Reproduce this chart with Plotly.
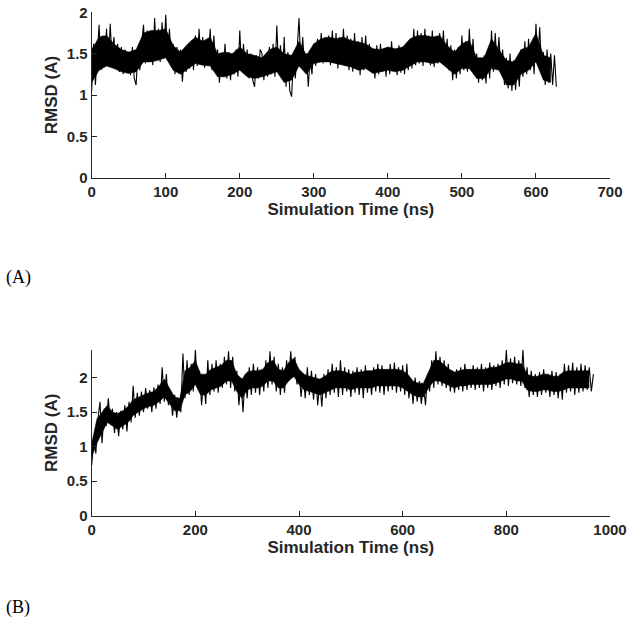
import plotly.graph_objects as go

# ---- data ----
dt_a = 2.5  # ns between samples, panel A
rmsd_a = [
    1.05, 1.62, 1.12, 1.55, 1.85, 1.30, 1.72, 1.38, 1.80, 1.35, 1.86, 1.42,
    1.70, 1.33, 1.62, 1.28, 1.58, 1.25, 1.55, 1.30, 1.52, 1.24, 1.58, 1.20,
    1.12, 1.55, 1.30, 1.62, 1.85, 1.38, 1.78, 1.42, 1.70, 1.36, 1.93, 1.45,
    1.80, 1.40, 1.88, 1.50, 1.97, 1.45, 1.80, 1.38, 1.62, 1.25, 1.58, 1.30,
    1.55, 1.16, 1.50, 1.28, 1.60, 1.32, 1.66, 1.30, 1.72, 1.35, 1.80, 1.40,
    1.70, 1.33, 1.65, 1.38, 1.80, 1.30, 1.72, 1.35, 1.55, 1.15, 1.50, 1.22,
    1.62, 1.20, 1.52, 1.18, 1.50, 1.25, 1.55, 1.22, 1.78, 1.30, 1.62, 1.28,
    1.55, 1.20, 1.50, 1.18, 1.10, 1.48, 1.20, 1.55, 1.50, 1.18, 1.45, 1.22,
    1.58, 1.25, 1.62, 1.22, 1.84, 1.30, 1.60, 1.20, 1.70, 1.10, 1.52, 1.05,
    0.98, 1.45, 1.20, 1.55, 1.93, 1.35, 1.70, 1.30, 1.50, 1.10, 1.45, 1.25,
    1.62, 1.35, 1.68, 1.40, 1.75, 1.38, 1.70, 1.42, 1.72, 1.36, 1.78, 1.40,
    1.75, 1.32, 1.70, 1.38, 1.80, 1.35, 1.72, 1.30, 1.68, 1.28, 1.75, 1.35,
    1.65, 1.24, 1.70, 1.30, 1.72, 1.32, 1.62, 1.28, 1.55, 1.20, 1.60, 1.25,
    1.62, 1.28, 1.55, 1.22, 1.58, 1.25, 1.65, 1.30, 1.55, 1.24, 1.60, 1.27,
    1.58, 1.25, 1.62, 1.30, 1.65, 1.32, 1.80, 1.36, 1.78, 1.38, 1.75, 1.35,
    1.80, 1.40, 1.72, 1.36, 1.78, 1.34, 1.70, 1.38, 1.75, 1.40, 1.78, 1.36,
    1.68, 1.30, 1.60, 1.18, 1.55, 1.20, 1.58, 1.25, 1.72, 1.30, 1.65, 1.28,
    1.80, 1.32, 1.68, 1.25, 1.50, 1.15, 1.45, 1.18, 1.48, 1.14, 1.52, 1.20,
    1.78, 1.28, 1.75, 1.35, 1.70, 1.30, 1.55, 1.12, 1.45, 1.08, 1.50, 1.05,
    1.42, 1.06, 1.45, 1.10, 1.55, 1.22, 1.65, 1.25, 1.68, 1.30, 1.60, 1.25,
    1.86, 1.40, 1.82, 1.35, 1.52, 1.12, 1.55, 1.15, 1.50, 1.12, 1.48, 1.10,
]
# dense core of the fluctuation band, panel A (every 10 ns)
dt_core_a = 10.0
core_a_lo = [
    1.15, 1.30, 1.35, 1.32, 1.28, 1.26, 1.28, 1.40, 1.40, 1.42, 1.45, 1.30,
    1.25, 1.32, 1.38, 1.36, 1.35, 1.22, 1.22, 1.25, 1.30, 1.22, 1.20, 1.22,
    1.25, 1.28, 1.15, 1.18, 1.35, 1.25, 1.38, 1.40, 1.40, 1.38, 1.36, 1.34,
    1.30, 1.32, 1.26, 1.28, 1.30, 1.28, 1.30, 1.35, 1.40, 1.40, 1.38, 1.40,
    1.32, 1.25, 1.32, 1.32, 1.20, 1.20, 1.32, 1.30, 1.12, 1.12, 1.25, 1.30,
    1.40, 1.18, 1.15,
]
core_a_hi = [
    1.55, 1.70, 1.72, 1.62, 1.55, 1.52, 1.55, 1.75, 1.78, 1.78, 1.80, 1.60,
    1.52, 1.62, 1.70, 1.65, 1.70, 1.50, 1.52, 1.50, 1.58, 1.50, 1.48, 1.45,
    1.55, 1.58, 1.50, 1.48, 1.65, 1.48, 1.62, 1.68, 1.70, 1.68, 1.70, 1.66,
    1.64, 1.62, 1.56, 1.55, 1.58, 1.56, 1.58, 1.68, 1.72, 1.72, 1.70, 1.72,
    1.60, 1.52, 1.62, 1.66, 1.45, 1.45, 1.68, 1.55, 1.42, 1.40, 1.55, 1.58,
    1.75, 1.48, 1.45,
]

dt_b = 4.0  # ns between samples, panel B
rmsd_b = [
    0.73, 1.12, 0.90, 1.40, 1.65, 1.05, 1.55, 1.30, 1.70, 1.35,
    1.55, 1.20, 1.50, 1.15, 1.52, 1.25, 1.60, 1.22, 1.65, 1.35,
    1.88, 1.42, 1.78, 1.45, 1.80, 1.50, 1.85, 1.55, 1.82, 1.50,
    1.86, 1.55, 1.90, 1.62, 2.15, 1.65, 2.05, 1.60, 1.80, 1.45,
    1.75, 1.42, 1.70, 1.50, 2.35, 1.70, 2.25, 1.75, 2.20, 1.80,
    2.40, 1.85, 2.10, 1.60, 1.95, 1.62, 2.25, 1.75, 2.20, 1.80,
    2.25, 1.78, 2.20, 1.85, 2.30, 1.90, 2.38, 1.85, 2.30, 1.80,
    2.10, 1.60, 1.95, 1.50, 2.05, 1.70, 2.15, 1.75, 2.20, 1.78,
    2.15, 1.75, 2.10, 1.80, 2.25, 1.85, 2.38, 1.90, 2.30, 1.80,
    2.20, 1.75, 2.15, 1.78, 2.25, 1.95, 2.38, 2.00, 2.30, 1.90,
    2.10, 1.72, 2.05, 1.70, 2.15, 1.75, 2.10, 1.68, 2.05, 1.60,
    1.95, 1.58, 2.05, 1.70, 2.12, 1.75, 2.20, 1.78, 2.15, 1.72,
    2.25, 1.75, 2.15, 1.80, 2.12, 1.72, 2.10, 1.78, 2.15, 1.75,
    2.12, 1.70, 2.18, 1.78, 2.10, 1.75, 2.15, 1.80, 2.20, 1.78,
    2.18, 1.75, 2.12, 1.80, 2.20, 1.82, 2.22, 1.78, 2.15, 1.80,
    2.18, 1.75, 2.20, 1.70, 1.98, 1.62, 2.00, 1.65, 1.95, 1.62,
    1.90, 1.60, 2.05, 1.80, 2.25, 1.85, 2.38, 1.90, 2.30, 1.88,
    2.25, 1.85, 2.20, 1.80, 2.10, 1.78, 2.12, 1.82, 2.15, 1.80,
    2.20, 1.82, 2.12, 1.85, 2.18, 1.82, 2.15, 1.85, 2.20, 1.80,
    2.15, 1.85, 2.22, 1.82, 2.18, 1.88, 2.20, 1.85, 2.25, 1.90,
    2.40, 1.88, 2.28, 1.92, 2.30, 1.90, 2.25, 1.88, 2.40, 1.85,
    2.15, 1.72, 2.10, 1.75, 2.05, 1.72, 2.08, 1.75, 2.12, 1.78,
    2.05, 1.72, 2.10, 1.75, 2.08, 1.70, 2.05, 1.68, 2.20, 1.78,
    2.18, 1.80, 2.22, 1.75, 2.15, 1.78, 2.20, 1.80, 2.18, 1.82,
    2.15, 1.80, 2.05,
]
# dense core of the fluctuation band, panel B (every 10 ns)
dt_core_b = 10.0
core_b_lo = [
    0.85, 1.05, 1.20, 1.35, 1.30, 1.25, 1.30, 1.35, 1.45, 1.50,
    1.55, 1.58, 1.60, 1.65, 1.72, 1.62, 1.52, 1.52, 1.75, 1.80,
    1.90, 1.75, 1.75, 1.82, 1.85, 1.88, 1.95, 1.95, 1.80, 1.70,
    1.82, 1.85, 1.85, 1.88, 1.95, 1.95, 1.85, 1.85, 1.95, 2.02,
    1.90, 1.82, 1.80, 1.78, 1.75, 1.78, 1.82, 1.85, 1.85, 1.85,
    1.82, 1.85, 1.85, 1.85, 1.85, 1.88, 1.88, 1.88, 1.88, 1.88,
    1.85, 1.80, 1.75, 1.72, 1.72, 1.85, 1.95, 1.95, 1.92, 1.88,
    1.85, 1.88, 1.88, 1.90, 1.90, 1.90, 1.90, 1.90, 1.92, 1.95,
    1.98, 1.98, 1.95, 1.95, 1.82, 1.80, 1.80, 1.82, 1.82, 1.80,
    1.80, 1.82, 1.85, 1.85, 1.85, 1.85, 1.85,
]
core_b_hi = [
    1.05, 1.40, 1.50, 1.60, 1.50, 1.48, 1.52, 1.58, 1.68, 1.72,
    1.75, 1.78, 1.80, 1.88, 1.98, 1.85, 1.72, 1.70, 2.10, 2.15,
    2.25, 2.05, 2.05, 2.12, 2.15, 2.18, 2.25, 2.25, 2.05, 1.98,
    2.08, 2.10, 2.10, 2.12, 2.22, 2.25, 2.12, 2.10, 2.22, 2.28,
    2.12, 2.05, 2.02, 2.00, 1.98, 2.02, 2.08, 2.10, 2.10, 2.08,
    2.05, 2.08, 2.08, 2.10, 2.10, 2.12, 2.12, 2.12, 2.12, 2.12,
    2.10, 2.05, 1.95, 1.92, 1.92, 2.08, 2.25, 2.25, 2.18, 2.12,
    2.08, 2.10, 2.12, 2.12, 2.12, 2.12, 2.12, 2.15, 2.15, 2.18,
    2.22, 2.22, 2.20, 2.20, 2.05, 2.02, 2.02, 2.05, 2.05, 2.02,
    2.02, 2.08, 2.10, 2.10, 2.10, 2.10, 2.10,
]

time_a = [i * dt_a for i in range(len(rmsd_a))]
time_b = [i * dt_b for i in range(len(rmsd_b))]
time_core_a = [i * dt_core_a for i in range(len(core_a_lo))]
time_core_b = [i * dt_core_b for i in range(len(core_b_lo))]

x_ticks_a = [0, 100, 200, 300, 400, 500, 600, 700]
x_ticks_b = [0, 200, 400, 600, 800, 1000]
y_ticks = [0, 0.5, 1, 1.5, 2]
y_tick_labels = ["0", "0.5", "1", "1.5", "2"]
x_title = "Simulation Time (ns)"
y_title = "RMSD (A)"
panel_labels = ["(A)", "(B)"]

# ---- figure ----
W, H = 633, 632
fig = go.Figure()

def add_panel(tc, lo, hi, t, v, xa, ya):
    fig.add_trace(go.Scatter(x=tc, y=lo, mode="lines", line=dict(color="black", width=0.5),
                             xaxis=xa, yaxis=ya, showlegend=False, hoverinfo="skip"))
    fig.add_trace(go.Scatter(x=tc, y=hi, mode="lines", line=dict(color="black", width=0.5),
                             fill="tonexty", fillcolor="black",
                             xaxis=xa, yaxis=ya, showlegend=False, hoverinfo="skip"))
    fig.add_trace(go.Scatter(x=t, y=v, mode="lines", line=dict(color="black", width=1.1),
                             xaxis=xa, yaxis=ya, showlegend=False))

add_panel(time_core_a, core_a_lo, core_a_hi, time_a, rmsd_a, "x", "y")
add_panel(time_core_b, core_b_lo, core_b_hi, time_b, rmsd_b, "x2", "y2")

FAM = "Liberation Sans, Arial, Helvetica, sans-serif"
tick_font = dict(family=FAM, size=15, color="#262626", weight="bold")
title_font = dict(family=FAM, size=17, color="#262626", weight="bold")

def xax(rng, ticks, dom, anchor):
    return dict(range=rng, tickvals=ticks, ticktext=[str(t) for t in ticks],
                domain=dom, anchor=anchor, showgrid=False, zeroline=False,
                showline=True, linecolor="#262626", linewidth=1,
                ticks="inside", ticklen=5, tickcolor="#262626",
                tickfont=tick_font, automargin=False,
                title=dict(text=x_title, font=title_font, standoff=0))

def yax(rng, dom, anchor):
    return dict(range=rng, tickvals=y_ticks, ticktext=y_tick_labels,
                domain=dom, anchor=anchor, showgrid=False, zeroline=False,
                showline=True, linecolor="#262626", linewidth=1,
                ticks="inside", ticklen=5, tickcolor="#262626",
                tickfont=tick_font, automargin=False,
                title=dict(text=y_title, font=title_font, standoff=4))

xd = [91.7 / W, 610 / W]
fig.update_layout(
    width=W, height=H, margin=dict(l=0, r=0, t=0, b=0),
    paper_bgcolor="white", plot_bgcolor="white",
    xaxis=xax([0, 700], x_ticks_a, xd, "y"),
    yaxis=yax([0, 2], [1 - 177.7 / H, 1 - 12.3 / H], "x"),
    xaxis2=xax([0, 1000], x_ticks_b, xd, "y2"),
    yaxis2=yax([0, 2.4], [1 - 515.7 / H, 1 - 350 / H], "x2"),
    annotations=[
        dict(text=panel_labels[0], x=4 / W, y=1 - 277 / H, xref="paper",
             yref="paper", xanchor="left", yanchor="middle", showarrow=False,
             font=dict(family="Liberation Serif, Times New Roman, serif",
                       size=18, color="black")),
        dict(text=panel_labels[1], x=4 / W, y=1 - 607 / H, xref="paper",
             yref="paper", xanchor="left", yanchor="middle", showarrow=False,
             font=dict(family="Liberation Serif, Times New Roman, serif",
                       size=18, color="black")),
    ],
)

fig.write_html("out.html", config={"displayModeBar": False},
               post_script="document.body.style.margin='0';document.body.style.overflow='hidden';")
